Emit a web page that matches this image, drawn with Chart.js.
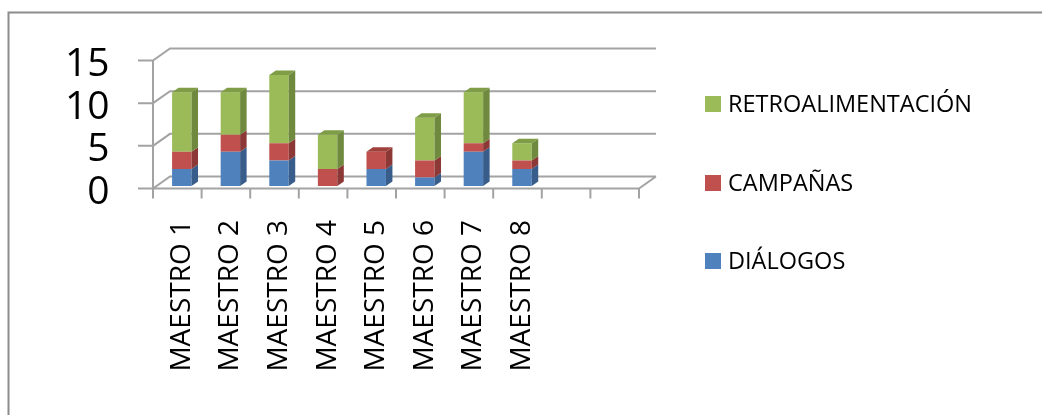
<!DOCTYPE html>
<html>
<head>
<meta charset="utf-8">
<script src="https://cdn.jsdelivr.net/npm/chart.js@4/dist/chart.umd.min.js"></script>
<style>
  html, body { margin: 0; padding: 0; background: #fff; }
  canvas { display: block; }
</style>
</head>
<body>
<canvas id="chart" width="1042" height="415"></canvas>
<script>
// categories (two empty slots at the end, as in the original)
const categories = ['MAESTRO 1', 'MAESTRO 2', 'MAESTRO 3', 'MAESTRO 4', 'MAESTRO 5', 'MAESTRO 6', 'MAESTRO 7', 'MAESTRO 8', '', ''];
const dialogos = [2, 4, 3, 0, 2, 1, 4, 2];
const campanas = [2, 2, 2, 2, 2, 2, 1, 1];
const retroalimentacion = [7, 5, 8, 4, 0, 5, 6, 2];
const yTicks = [0, 5, 10, 15];

const FONT = '"Open Sans", "DejaVu Sans", sans-serif';
const GRID = '#a3a3a3';

// 3D offsets (relative to the bar front plane)
const FRONT = { dx: -4.5, dy: 2.5 };
const BACK = { dx: 12.5, dy: -9.5 };
const DEPTH = { dx: 6.5, dy: -4.5 };

const faces = {
    blue:  { front: '#4F81BD', side: '#385D8A', top: '#42699A' },
    red:   { front: '#C0504D', side: '#8C3836', top: '#A0403D' },
    green: { front: '#9BBB59', side: '#6F8A3E', top: '#7E9D46' }
};

// no automatic padding from the tick labels, the layout is fixed
function fixScale(size) {
    return s => {
        Object.assign(s, size);
        s.paddingTop = 0;
        s.paddingBottom = 0;
        s.paddingLeft = 0;
        s.paddingRight = 0;
    };
}

/**
 * Frame, back wall, floor and axis lines
 */
const wallPlugin = {
    id: 'wall',
    beforeDatasetsDraw(chart) {
        const ctx = chart.ctx;
        const area = chart.chartArea;
        const y = chart.scales.y;
        ctx.save();

        // outer frame (only top and left are visible)
        ctx.strokeStyle = '#8c8c8c';
        ctx.lineWidth = 2;
        ctx.beginPath();
        ctx.moveTo(8.5, 415);
        ctx.lineTo(8.5, 12.5);
        ctx.lineTo(1042, 12.5);
        ctx.stroke();

        ctx.strokeStyle = GRID;
        ctx.lineWidth = 2;
        ctx.beginPath();
        yTicks.forEach(v => {
            const py = y.getPixelForValue(v);
            // diagonal + back gridline
            ctx.moveTo(area.left + FRONT.dx, py + FRONT.dy);
            ctx.lineTo(area.left + BACK.dx, py + BACK.dy);
            ctx.lineTo(area.right + BACK.dx, py + BACK.dy);
            // tick on the front axis
            ctx.moveTo(area.left + FRONT.dx - 15, py + FRONT.dy);
            ctx.lineTo(area.left + FRONT.dx, py + FRONT.dy);
        });
        // front vertical axis
        const y0 = y.getPixelForValue(0);
        const yTop = y.getPixelForValue(yTicks[yTicks.length - 1]);
        ctx.moveTo(area.left + FRONT.dx, yTop + FRONT.dy);
        ctx.lineTo(area.left + FRONT.dx, y0 + FRONT.dy + 10);
        // floor front edge and right diagonal
        ctx.moveTo(area.left + FRONT.dx, y0 + FRONT.dy);
        ctx.lineTo(area.right + FRONT.dx, y0 + FRONT.dy);
        ctx.lineTo(area.right + BACK.dx, y0 + BACK.dy);
        // category ticks
        const step = (area.right - area.left) / categories.length;
        for (let i = 0; i <= categories.length; i++) {
            const px = area.left + i * step + FRONT.dx;
            ctx.moveTo(px, y0 + FRONT.dy);
            ctx.lineTo(px, y0 + FRONT.dy + 10);
        }
        ctx.stroke();
        ctx.restore();
    }
};

/**
 * Side and top faces of the stacked bars
 */
const bar3dPlugin = {
    id: 'bar3d',
    afterDatasetsDraw(chart) {
        const ctx = chart.ctx;
        const sets = chart.data.datasets;
        ctx.save();
        for (let i = 0; i < categories.length; i++) {
            let topBar = null, topFace = null;
            sets.forEach((ds, d) => {
                const bar = chart.getDatasetMeta(d).data[i];
                if (!bar || !ds.data[i]) return;
                const f = ds.faces;
                const r = bar.x + bar.width / 2;
                ctx.fillStyle = f.side;
                ctx.beginPath();
                ctx.moveTo(r, bar.y);
                ctx.lineTo(r + DEPTH.dx, bar.y + DEPTH.dy);
                ctx.lineTo(r + DEPTH.dx, bar.base + DEPTH.dy);
                ctx.lineTo(r, bar.base);
                ctx.closePath();
                ctx.fill();
                if (!topBar || bar.y < topBar.y) { topBar = bar; topFace = f; }
            });
            if (topBar) {
                const l = topBar.x - topBar.width / 2;
                const r = topBar.x + topBar.width / 2;
                ctx.fillStyle = topFace.top;
                ctx.beginPath();
                ctx.moveTo(l, topBar.y);
                ctx.lineTo(l + DEPTH.dx, topBar.y + DEPTH.dy);
                ctx.lineTo(r + DEPTH.dx, topBar.y + DEPTH.dy);
                ctx.lineTo(r, topBar.y);
                ctx.closePath();
                ctx.fill();
            }
        }
        ctx.restore();
    }
};

/**
 * Legend on the right, reversed order
 */
const legendPlugin = {
    id: 'sideLegend',
    afterDraw(chart) {
        const ctx = chart.ctx;
        const rows = [104, 183, 261];
        ctx.save();
        ctx.font = '23.5px ' + FONT;
        ctx.textBaseline = 'middle';
        chart.data.datasets.slice().reverse().forEach((ds, k) => {
            ctx.fillStyle = ds.backgroundColor;
            ctx.fillRect(705, rows[k] - 8, 16, 16);
            ctx.fillStyle = '#000';
            ctx.fillText(ds.label, 728, rows[k] + 1);
        });
        ctx.restore();
    }
};

new Chart(document.getElementById('chart'), {
    type: 'bar',
    data: {
        labels: categories,
        datasets: [
            { label: 'DIÁLOGOS', data: dialogos, backgroundColor: faces.blue.front, faces: faces.blue },
            { label: 'CAMPAÑAS', data: campanas, backgroundColor: faces.red.front, faces: faces.red },
            { label: 'RETROALIMENTACIÓN', data: retroalimentacion, backgroundColor: faces.green.front, faces: faces.green }
        ]
    },
    options: {
        responsive: false,
        animation: false,
        layout: { padding: { left: 0, top: 58, right: 398.5, bottom: 0 } },
        datasets: { bar: { categoryPercentage: 1, barPercentage: 0.4, borderWidth: 0 } },
        plugins: {
            legend: { display: false },
            tooltip: { enabled: false }
        },
        scales: {
            x: {
                stacked: true,
                grid: { display: false, drawTicks: false },
                border: { display: false },
                ticks: {
                    autoSkip: false,
                    minRotation: 90,
                    maxRotation: 90,
                    padding: 34,
                    color: '#000',
                    font: { family: FONT, size: 28 }
                },
                afterFit: fixScale({ height: 415 - 186 })
            },
            y: {
                stacked: true,
                min: 0,
                max: 15,
                grid: { display: false, drawTicks: false },
                border: { display: false },
                ticks: {
                    autoSkip: false,
                    stepSize: 5,
                    padding: 48,
                    labelOffset: 7,
                    color: '#000',
                    font: { family: FONT, size: 39 }
                },
                afterFit: fixScale({ width: 157.5 })
            }
        }
    },
    plugins: [wallPlugin, bar3dPlugin, legendPlugin]
});
</script>
</body>
</html>
